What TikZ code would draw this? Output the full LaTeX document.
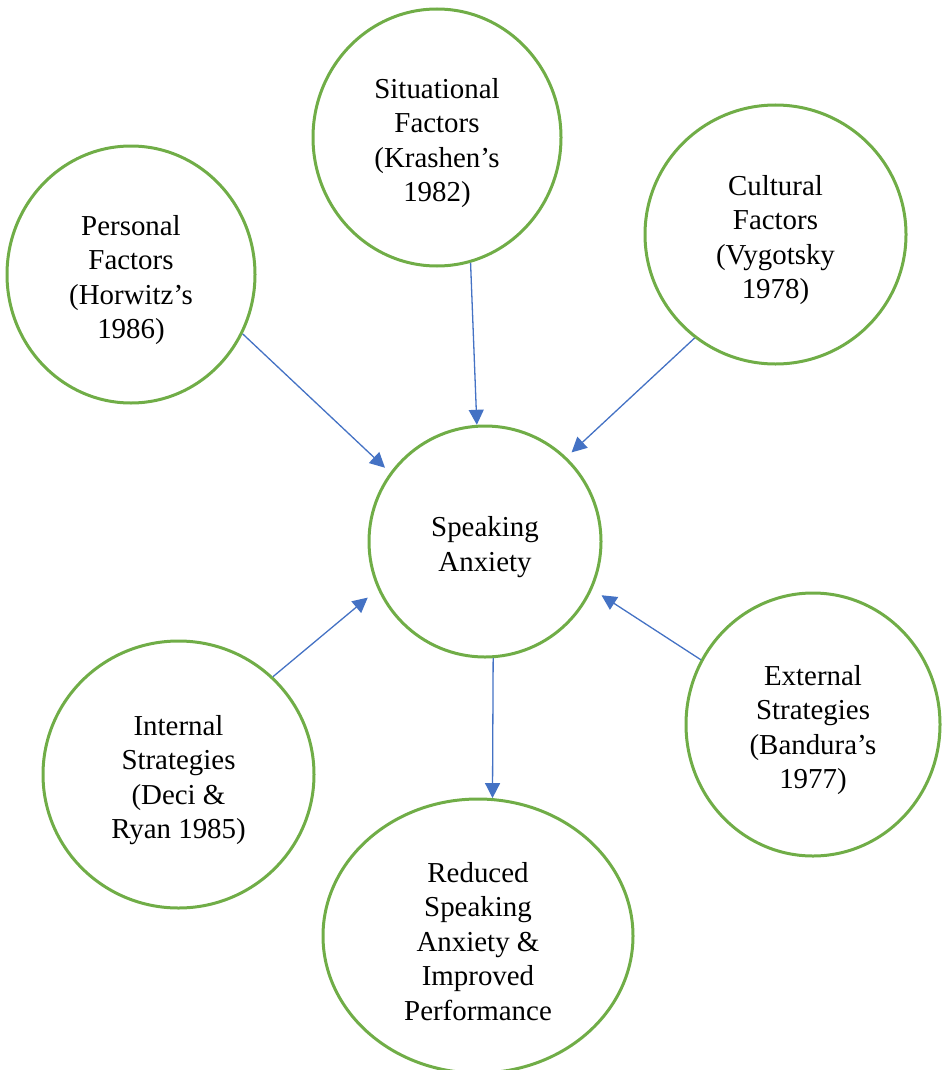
\documentclass[tikz,border=0pt]{standalone}
\usepackage{fontspec}
\setmainfont{Liberation Serif}
\usetikzlibrary{arrows.meta,shapes.geometric}
\definecolor{bubblegreen}{HTML}{70AD47}
\definecolor{linkblue}{HTML}{4472C4}
\newcommand{\lowstrut}{\rule{0pt}{31pt}}

\begin{document}
\begin{tikzpicture}[x=1pt,y=-1pt,>={Triangle[length=15pt,width=15pt]},line join=round,
  bubble/.style={ellipse,draw=bubblegreen,line width=3pt,inner sep=0pt,align=center,
    font=\fontsize{28.9}{34.5}\selectfont},
  link/.style={->,draw=linkblue,line width=1.3pt}]
  \useasboundingbox (0,0) rectangle (945,1070);

  \node[bubble,minimum width=248pt,minimum height=257pt] (pers) at (131,274.5)
    {\lowstrut Personal\\Factors\\(Horwitz’s\\1986)};
  \node[bubble,minimum width=248pt,minimum height=257pt] (situ) at (437,137.5)
    {\lowstrut Situational\\Factors\\(Krashen’s\\1982)};
  \node[bubble,minimum width=261pt,minimum height=259pt] (cult) at (775.5,234.5)
    {\lowstrut Cultural\\Factors\\(Vygotsky\\1978)};
  \node[bubble,minimum width=232pt,minimum height=231pt] (speak) at (485,541.5)
    {\lowstrut Speaking\\Anxiety};
  \node[bubble,minimum width=254pt,minimum height=263pt] (ext) at (813,724.5)
    {\lowstrut External\\Strategies\\(Bandura’s\\1977)};
  \node[bubble,minimum width=271pt,minimum height=267pt] (intl) at (178.5,774.5)
    {\lowstrut Internal\\Strategies\\(Deci \&\\Ryan 1985)};
  \node[bubble,minimum width=310pt,minimum height=274pt] (redu) at (478,936)
    {\lowstrut Reduced\\Speaking\\Anxiety \&\\Improved\\Performance};

  % influences on speaking anxiety
  \draw[link,shorten >=7pt] (pers.-28) -- (speak.144);
  \draw[link] (situ.-75) -- (speak.94);
  \draw[link,shorten >=7pt] (cult.232) -- (speak.46);
  \draw[link,shorten >=11pt] (ext.150) -- (speak.-24);
  \draw[link,shorten >=13pt] (intl.46) -- (speak.204);
  \draw[link] (speak.-86.5) -- (redu.84);
\end{tikzpicture}
\end{document}
